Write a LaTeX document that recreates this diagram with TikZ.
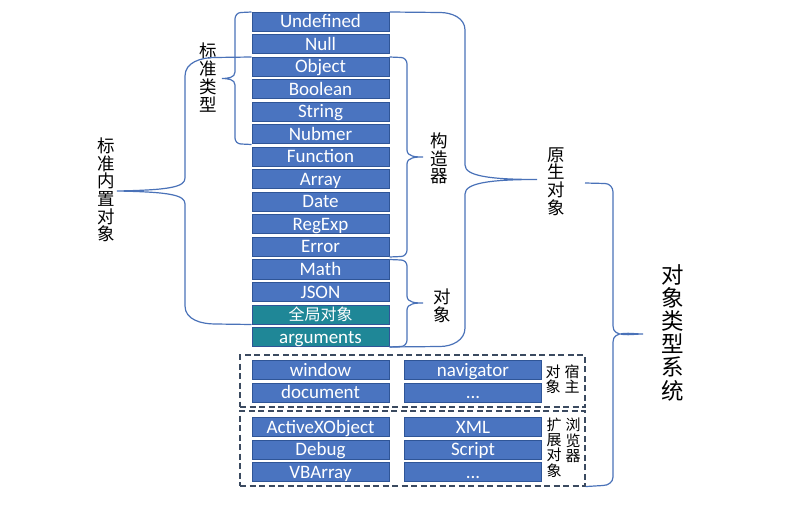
\documentclass[tikz,border=0pt]{standalone}
\usepackage{fontspec}
\setsansfont{Carlito}
\newfontfamily\cjk{Noto Sans CJK SC}
\usepackage{xcolor}
\usepackage{tikz}

\definecolor{boxblue}{HTML}{4A74C0}
\definecolor{boxline}{HTML}{2F5597}
\definecolor{boxteal}{HTML}{1F8797}
\definecolor{bracecol}{HTML}{4A72B8}
\definecolor{dashcol}{HTML}{3B4A60}

\begin{document}
\begin{tikzpicture}[x=1pt,y=1pt,
		typebox/.style={draw=boxline, fill=boxblue, line width=1pt, minimum width=137pt, minimum height=19pt, inner sep=0pt, text height=12.5pt, text depth=0.5pt, text=white, font=\sffamily\fontsize{19}{19}\selectfont},
		globbox/.style={typebox, fill=boxteal},
		brace/.style={draw=bracecol, line width=1.2pt},
		dashbox/.style={draw=dashcol, dash pattern=on 6pt off 3.5pt, line width=1.1pt, minimum width=345pt, inner sep=0pt},
		vlabel/.style={font=\cjk\fontsize{17.5}{17.7}\selectfont, align=center, inner sep=0pt},
		hostlabel/.style={font=\cjk\fontsize{15}{15.3}\selectfont, align=center, inner sep=0pt}
	]
		\useasboundingbox (0,0) rectangle (791,-518);
		
		\node[typebox] (undef) at (320.5,-22) {Undefined};
		\node[typebox] (null) at (320.5,-44.5) {Null};
		\node[typebox] (object) at (320.5,-67) {Object};
		\node[typebox] (boolean) at (320.5,-89.5) {Boolean};
		\node[typebox] (string) at (320.5,-112) {String};
		\node[typebox] (nubmer) at (320.5,-134.5) {Nubmer};
		\node[typebox] (function) at (320.5,-157) {Function};
		\node[typebox] (array) at (320.5,-179.5) {Array};
		\node[typebox] (date) at (320.5,-202) {Date};
		\node[typebox] (regexp) at (320.5,-224.5) {RegExp};
		\node[typebox] (error) at (320.5,-247) {Error};
		\node[typebox] (math) at (320.5,-269.5) {Math};
		\node[typebox] (json) at (320.5,-292) {JSON};
		\node[globbox, font=\cjk\fontsize{16}{16}\selectfont] (global) at (320.5,-314.5) {全局对象};
		\node[globbox] (args) at (320.5,-337) {arguments};
		
		\node[dashbox, minimum height=52pt] (host) at (412.5,-381) {};
		\node[dashbox, minimum height=75pt] (browser) at (412.5,-448.5) {};
		
		\node[typebox] (window) at (320.5,-370) {window};
		\node[typebox] (document) at (320.5,-392.5) {document};
		\node[typebox] (navigator) at (473,-370) {navigator};
		\node[typebox] (hostmore) at (473,-392.5) {...};
		\node[typebox] (activex) at (320.5,-427) {ActiveXObject};
		\node[typebox] (debug) at (320.5,-449.5) {Debug};
		\node[typebox] (vbarray) at (320.5,-472) {VBArray};
		\node[typebox] (xml) at (473,-427) {XML};
		\node[typebox] (script) at (473,-449.5) {Script};
		\node[typebox] (browmore) at (473,-472) {...};
		
		\node[hostlabel] (hostR) at (572,-379) {宿\\主};
		\node[hostlabel] (hostL) at (553,-379) {对\\象};
		\node[hostlabel] (browR) at (573,-440.5) {浏\\览\\器};
		\node[hostlabel] (browL) at (554,-447.5) {扩\\展\\对\\象};
		
		\node[vlabel] (stdtype) at (208,-77.5) {标\\准\\类\\型};
		\node[vlabel] (builtin) at (106,-190) {标\\准\\内\\置\\对\\象};
		\node[vlabel] (ctor) at (439,-158.5) {构\\造\\器};
		\node[vlabel] (objlab) at (442,-305.5) {对\\象};
		\node[vlabel] (native) at (556,-181.5) {原\\生\\对\\象};
		\node[vlabel, font=\cjk\fontsize{22.5}{23.2}\selectfont] (system) at (673,-332.5) {对\\象\\类\\型\\系\\统};
		
		\coordinate (stdtip) at (222,-78.5);
		\coordinate (builtintip) at (117,-191);
		\coordinate (ctortip) at (423,-157);
		\coordinate (objtip) at (423,-303);
		\coordinate (nativetip) at (537,-179.5);
		\coordinate (systop) at (585,-183);
		\coordinate (systip) at (643,-334);
		
		\draw[brace] (undef.north west) -- (241,-12.5) to[out=180,in=90] (235,-19) -- (235,-72) to[out=-90,in=0] (stdtip) to[out=0,in=90] (235,-85) -- (235,-138) to[out=-90,in=180] (241,-144) -- (nubmer.south west);
		\draw[brace] (object.north west) -- (215,-57.5) to[out=180,in=90] (185,-76) -- (185,-178) .. controls (185,-187) and (170,-190) .. (builtintip) .. controls (170,-192) and (185,-195) .. (185,-204) -- (185,-306) to[out=-90,in=180] (215,-324) -- (global.south west);
		\draw[brace] (object.north east) -- (401,-57.5) to[out=0,in=90] (407,-64) -- (407,-150) to[out=-90,in=180] (ctortip) to[out=180,in=90] (407,-164) -- (407,-250) to[out=-90,in=0] (401,-256.5) -- (error.south east);
		\draw[brace] (math.north east) -- (401,-260) to[out=0,in=90] (407,-266) -- (407,-296) to[out=-90,in=180] (objtip) to[out=180,in=90] (407,-310) -- (407,-340) to[out=-90,in=0] (401,-346.5) -- (args.south east);
		\draw[brace] (undef.north east) -- (440,-12.5) to[out=0,in=90] (465,-30) -- (465,-165) .. controls (465,-176) and (490,-179.5) .. (nativetip) .. controls (490,-179.5) and (465,-183) .. (465,-194) -- (465,-328) to[out=-90,in=0] (440,-346.5) -- (args.south east);
		\draw[brace] (systop) -- (605,-183.5) to[out=0,in=90] (613,-192) -- (613,-326) to[out=-90,in=180] (systip) to[out=180,in=90] (613,-342) -- (613,-477) to[out=-90,in=0] (603,-485.5) -- (browser.south east);
\end{tikzpicture}
\end{document}
